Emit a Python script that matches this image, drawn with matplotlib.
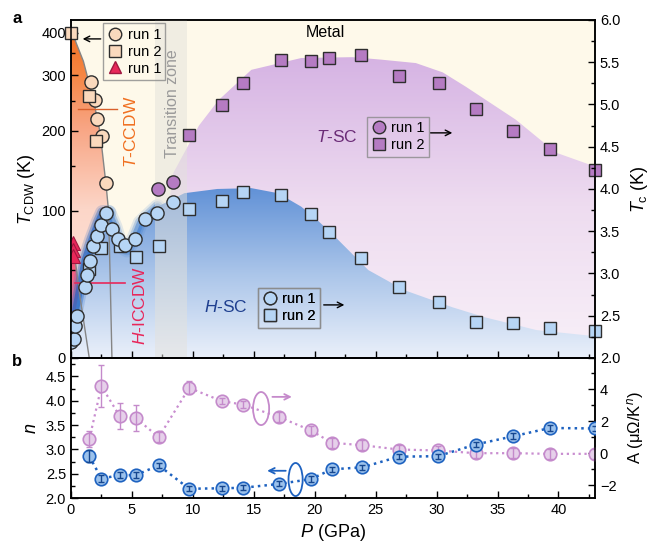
import numpy as np
import matplotlib
matplotlib.use('Agg')
import matplotlib.pyplot as plt
from matplotlib.colors import LinearSegmentedColormap
from matplotlib.patches import Polygon, Ellipse
from matplotlib.lines import Line2D
from matplotlib.ticker import MultipleLocator, FormatStrFormatter

plt.rcParams['font.family'] = ['Liberation Sans', 'DejaVu Sans']
plt.rcParams['mathtext.fontset'] = 'custom'
plt.rcParams['mathtext.rm'] = 'Liberation Sans'
plt.rcParams['mathtext.it'] = 'Liberation Sans:italic'
plt.rcParams['mathtext.bf'] = 'Liberation Sans:bold'
plt.rcParams['font.size'] = 10
plt.rcParams['axes.linewidth'] = 1.1

# ---- panel a, CDW transition temperatures (left axis, K)
ccdw_run1_P = [1.63, 1.93, 2.15, 2.54, 2.84]
ccdw_run1_T = [286, 252, 219, 192, 130]
ccdw_run2_P = [0.0, 1.46, 2.04]
ccdw_run2_T = [400, 258, 185]
iccdw_P = [0.2, 0.2, 0.2]
iccdw_T = [71, 65, 60]

# phase boundaries drawn as guides
ccdw_line_P = [0.0, 0.5, 1.02, 1.84, 2.40, 2.89, 3.08, 3.22, 3.36]
ccdw_line_T = [410, 368, 330, 252, 196, 126, 100, 43, 0]
iccdw_line_P = [0.2, 0.74, 1.5]
iccdw_line_T = [68, 32, 0]

# ---- panel a, superconducting Tc (right axis, K)
hsc_run1_P = [0.0, 0.25, 0.36, 0.52, 1.16, 1.35, 1.60, 1.79, 2.17, 2.45,
              2.84, 3.33, 3.83, 4.4, 5.29, 6.1, 7.08, 8.37]
hsc_run1_Tc = [2.19, 2.22, 2.38, 2.50, 2.84, 2.98, 3.15, 3.33, 3.44, 3.57,
               3.71, 3.53, 3.41, 3.34, 3.41, 3.64, 3.71, 3.84]
hsc_run2_P = [1.5, 2.5, 4.0, 5.3, 7.2, 9.7, 12.4, 14.1, 17.2, 19.7, 21.2,
              23.8, 26.9, 30.2, 33.2, 36.3, 39.3, 43.0]
hsc_run2_Tc = [3.05, 3.30, 3.32, 3.19, 3.32, 3.76, 3.86, 3.97, 3.93, 3.70,
               3.49, 3.18, 2.84, 2.66, 2.42, 2.41, 2.35, 2.32]
tsc_run1_P = [7.1, 8.4]
tsc_run1_Tc = [4.00, 4.08]
tsc_run2_P = [9.7, 12.4, 14.1, 17.2, 19.7, 21.2, 23.8, 26.9, 30.2, 33.2,
              36.3, 39.3, 43.0]
tsc_run2_Tc = [4.64, 4.99, 5.26, 5.53, 5.52, 5.55, 5.59, 5.34, 5.25, 4.95,
               4.69, 4.47, 4.22]

# shaded domes (upper edges)
hsc_edge_P = [-0.4, 0.33, 0.74, 1.16, 1.71, 2.23, 2.6, 3.1, 3.6, 4.05, 4.6,
              5.2, 5.7, 7.1, 9.3, 12.0, 14.8, 17.0, 18.9, 20.3, 21.7, 24.4,
              27.4, 31.3, 34.0, 38.2, 43.5]
hsc_edge_Tc = [2.18, 2.53, 2.84, 3.16, 3.40, 3.6, 3.72, 3.72, 3.55, 3.33,
               3.28, 3.42, 3.60, 3.79, 3.95, 4.0, 4.01, 3.95, 3.79, 3.62,
               3.43, 3.04, 2.80, 2.60, 2.48, 2.33, 2.25]
tsc_edge_P = [7.6, 8.4, 9.3, 10.5, 12.1, 14.8, 18.9, 23.1, 25.5, 28.3, 30.5,
              32.4, 36.5, 39.8, 43.5]
tsc_edge_Tc = [3.4, 4.19, 4.43, 4.75, 5.05, 5.41, 5.55, 5.56, 5.53, 5.49,
               5.38, 5.21, 4.82, 4.43, 4.24]

# ---- panel b, resistivity fit T^n
res_P = [1.5, 2.5, 4.0, 5.3, 7.2, 9.7, 12.4, 14.1, 17.1, 19.7, 21.4, 23.9,
         26.9, 30.1, 33.2, 36.3, 39.3, 43.0]
n_val = [2.86, 2.40, 2.47, 2.47, 2.67, 2.19, 2.20, 2.21, 2.29, 2.39, 2.59,
         2.63, 2.85, 2.86, 3.10, 3.27, 3.44, 3.43]
n_err = [0.12, 0.07, 0.06, 0.06, 0.06, 0.05, 0.05, 0.05, 0.05, 0.06, 0.05,
         0.05, 0.05, 0.05, 0.06, 0.06, 0.06, 0.05]
A_val = [0.86, 4.19, 2.31, 2.21, 1.0, 4.08, 3.25, 3.04, 2.25, 1.42, 0.65,
         0.5, 0.23, 0.17, 0.0, 0.0, -0.04, -0.04]
A_err = [0.5, 1.3, 0.8, 0.8, 0.3, 0.4, 0.2, 0.2, 0.3, 0.3, 0.3, 0.3, 0.3,
         0.3, 0.3, 0.3, 0.3, 0.3]


def fwd(t):
    return np.log1p(np.clip(t, -79, None) / 80.0)


def inv(u):
    return 80.0 * np.expm1(u)


def gradient_fill(axis, clip, colors, y1, z):
    cmap = LinearSegmentedColormap.from_list('g', colors)
    img = axis.imshow(np.linspace(0, 1, 256).reshape(-1, 1), cmap=cmap,
                      origin='lower', extent=[0, 1, 0, y1],
                      transform=axis.transAxes, aspect='auto',
                      interpolation='bilinear', zorder=z)
    img.set_clip_path(clip)


fig = plt.figure(figsize=(6.53, 5.55), dpi=100)
ax = fig.add_axes([0.1087, 0.355, 0.8025, 0.609])
axb = fig.add_axes([0.1087, 0.1027, 0.8025, 0.2523])

ax.set_yscale('function', functions=(fwd, inv))
ax.set_xlim(0, 43)
ax.set_ylim(0, 435)
ax.set_facecolor('#FEF9EA')
ax2 = ax.twinx()
ax2.set_ylim(2, 6)
tc = ax2.transData

# shaded regions
tsc_poly = Polygon(list(zip(tsc_edge_P, tsc_edge_Tc)) + [(43.5, 1.9), (7.6, 1.9)],
                   closed=True, transform=tc)
gradient_fill(ax, tsc_poly, ['#F8F0F8', '#EEDCF0', '#D5B2E3'], 0.9, 1)

ccdw_poly = Polygon([(0, 0)] + list(zip(ccdw_line_P, ccdw_line_T)),
                    closed=True, transform=ax.transData)
gradient_fill(ax, ccdw_poly,
              [(0, '#FDEDE8'), (0.45, '#FCD6C8'), (0.7, '#F8A482'),
               (0.87, '#F5843F'), (1, '#F06A1E')], 0.98, 1.2)

iccdw_poly = Polygon([(0, 0), (0, 70)] + list(zip(iccdw_line_P, iccdw_line_T)),
                     closed=True, transform=ax.transData)
gradient_fill(ax, iccdw_poly, ['#FBD8E0', '#F7849C', '#EF3A62'], 0.34, 1.3)

hsc_poly = Polygon(list(zip(hsc_edge_P, hsc_edge_Tc)) + [(43.5, 1.9), (-0.5, 1.9)],
                   closed=True, transform=tc)
gradient_fill(ax, hsc_poly, ['#EAF0FA', '#A9C4E9', '#5F90D6'], 0.51, 1.5)

# soft dark edge of the H-SC dome at low pressure
for lw, al in [(11, 0.18), (8, 0.35), (5, 0.6)]:
    ax.plot(hsc_edge_P[:8], hsc_edge_Tc[:8], color='#1A5FC2', lw=lw, alpha=al,
            transform=tc, zorder=1.6, solid_capstyle='round')
    ax.plot(hsc_edge_P[7:14], hsc_edge_Tc[7:14], color='#3F7ED0', lw=lw,
            alpha=al * 0.8, transform=tc, zorder=1.6, solid_capstyle='round')

ax.axvspan(6.9, 9.5, color='#E4E2DC', alpha=0.5, lw=0, zorder=2.6)

# boundaries and marks
ax.plot(ccdw_line_P, ccdw_line_T, color='#858585', lw=1, zorder=3)
ax.plot(iccdw_line_P, iccdw_line_T, color='#858585', lw=1, zorder=3)
ax.plot([0.58, 3.8], [236, 236], color='#D9602C', lw=1, zorder=3)
ax.plot([0.33, 4.46], [41, 41], color='#E8285A', lw=1.2, zorder=3)

mk = dict(ls='none', mec='#2E2E2E', mew=1)
ax.plot(tsc_run2_P, tsc_run2_Tc, 's', ms=8.5, mfc='#B57BC3', transform=tc, zorder=5, clip_on=False, **mk)
ax.plot(tsc_run1_P, tsc_run1_Tc, 'o', ms=9.5, mfc='#B57BC3', transform=tc, zorder=5, **mk)
ax.plot(hsc_run2_P, hsc_run2_Tc, 's', ms=8.5, mfc='#B6D5F5', transform=tc, zorder=5, clip_on=False, **mk)
ax.plot(hsc_run1_P, hsc_run1_Tc, 'o', ms=9.5, mfc='#B6D5F5', transform=tc, zorder=5, **mk)
ax.plot(ccdw_run1_P, ccdw_run1_T, 'o', ms=9.5, mfc='#FAD9BD', zorder=5.5, **mk)
ax.plot(ccdw_run2_P, ccdw_run2_T, 's', ms=8.5, mfc='#FAD9BD', zorder=5.5, clip_on=False, **mk)
ax.plot(iccdw_P, iccdw_T, '^', ms=9.5, mfc='#E8285A', mec='#A01840', mew=0.8,
        ls='none', zorder=6)

# legends
def make_legend(handles, labels, anchor):
    leg = ax.legend(handles, labels, loc='upper left', bbox_to_anchor=anchor,
                    fontsize=10.5, frameon=True, fancybox=False,
                    handlelength=1.0, handletextpad=0.35, borderpad=0.3,
                    labelspacing=0.2, borderaxespad=0)
    leg.get_frame().set_facecolor('none')
    leg.get_frame().set_edgecolor('#8A8A8A')
    leg.get_frame().set_linewidth(1)
    leg.set_zorder(7)
    ax.add_artist(leg)


def h(marker, fc, ec='#2E2E2E', ms=9):
    return Line2D([], [], ls='none', marker=marker, mfc=fc, mec=ec, ms=ms, mew=1)


make_legend([h('o', '#FAD9BD'), h('s', '#FAD9BD', ms=8), h('^', '#E8285A', ec='#A01840')],
            ['run 1', 'run 2', 'run 1'], (0.062, 0.99))
make_legend([h('o', '#B57BC3'), h('s', '#B57BC3', ms=8)], ['run 1', 'run 2'], (0.565, 0.713))
make_legend([h('o', '#B6D5F5'), h('s', '#B6D5F5', ms=8)], ['run 1', 'run 2'], (0.357, 0.207))

arr = dict(arrowstyle='->', color='k', lw=1)
ax.annotate('', xy=(0.017, 0.944), xytext=(0.062, 0.944), xycoords='axes fraction', arrowprops=arr, zorder=7)
ax.annotate('', xy=(0.733, 0.666), xytext=(0.681, 0.666), xycoords='axes fraction', arrowprops=arr, zorder=7)
ax.annotate('', xy=(0.527, 0.157), xytext=(0.477, 0.157), xycoords='axes fraction', arrowprops=arr, zorder=7)

ax.text(0.485, 0.962, 'Metal', transform=ax.transAxes, ha='center', va='center', fontsize=11.5, zorder=7)
ax.text(0.193, 0.754, 'Transition zone', transform=ax.transAxes, ha='center', va='center',
        rotation=90, fontsize=11.5, color='#9A9A9A', zorder=7)
ax.text(0.1145, 0.669, '$T$-CCDW', transform=ax.transAxes, ha='center', va='center',
        rotation=90, fontsize=12.5, color='#F07021', zorder=7)
ax.text(0.1317, 0.154, '$H$-ICCDW', transform=ax.transAxes, ha='center', va='center',
        rotation=90, fontsize=12.5, color='#E8265A', zorder=7)
ax.text(0.508, 0.654, '$T$-SC', transform=ax.transAxes, ha='center', va='center',
        fontsize=12.5, color='#6B2C77', zorder=7)
ax.text(0.296, 0.151, '$H$-SC', transform=ax.transAxes, ha='center', va='center',
        fontsize=12.5, color='#1F3F8F', zorder=7)

# axes styling, panel a
ax.set_xlim(0, 43)
ax.set_ylim(0, 435)
ax.xaxis.set_major_locator(MultipleLocator(5))
ax.xaxis.set_minor_locator(MultipleLocator(2.5))
ax.set_yticks([0, 100, 200, 300, 400])
ax.set_yticks([50, 150, 250, 350], minor=True)
ax.set_yticklabels(['0', '100', '200', '300', '400'])
ax.tick_params(axis='x', which='both', direction='in', labelbottom=False)
ax.tick_params(which='major', length=5, width=1, labelsize=10.5)
ax.tick_params(which='minor', length=3, width=1)
ax.tick_params(axis='y', which='both', direction='in')
ax2.yaxis.set_major_locator(MultipleLocator(0.5))
ax2.yaxis.set_minor_locator(MultipleLocator(0.25))
ax2.yaxis.set_major_formatter(FormatStrFormatter('%.1f'))
ax2.tick_params(which='both', direction='in')
ax2.tick_params(which='major', length=5, width=1, labelsize=10.5)
ax2.tick_params(which='minor', length=3, width=1)
ax.set_ylabel(r'$T_{\rm CDW}$ (K)', fontsize=13, labelpad=3)
ax2.set_ylabel(r'$T_{\rm c}$ (K)', fontsize=13, labelpad=6)

# ---- panel b
axb2 = axb.twinx()
axb.set_zorder(axb2.get_zorder() + 1)
axb.patch.set_visible(False)

axb2.plot(res_P, A_val, ':', color='#C98DD0', lw=1.6, zorder=2)
axb2.plot(res_P, A_val, 'o', ms=9, mfc='#E6D0EA', mec='#C48ACB', mew=1.2, ls='none', zorder=3)
axb2.errorbar(res_P, A_val, yerr=A_err, fmt='none', ecolor='#C48ACB', elinewidth=1,
              capsize=2, zorder=4)
axb.plot(res_P, n_val, ':', color='#1E62C0', lw=1.8, zorder=2)
axb.plot(res_P, n_val, 'o', ms=9, mfc='#9CC2EC', mec='#1E62C0', mew=1.2, ls='none', zorder=3)
axb.errorbar(res_P, n_val, yerr=n_err, fmt='none', ecolor='#16478F', elinewidth=1,
             capsize=2, zorder=4)

axb.add_patch(Ellipse((15.6, 3.84), 1.32, 0.68, fill=False, ec='#C58ACB', lw=1.3, zorder=5))
axb.annotate('', xy=(18.35, 4.08), xytext=(16.3, 4.08),
             arrowprops=dict(arrowstyle='->', color='#C58ACB', lw=1.3))
axb.add_patch(Ellipse((18.43, 2.38), 1.16, 0.68, fill=False, ec='#1E62C0', lw=1.3, zorder=5))
axb.annotate('', xy=(15.87, 2.56), xytext=(17.85, 2.56),
             arrowprops=dict(arrowstyle='->', color='#1E62C0', lw=1.3))

axb.set_xlim(0, 43)
axb.set_ylim(2.0, 4.88)
axb2.set_ylim(-2.8, 5.95)
axb.xaxis.set_major_locator(MultipleLocator(5))
axb.xaxis.set_minor_locator(MultipleLocator(2.5))
axb.set_yticks([2.0, 2.5, 3.0, 3.5, 4.0, 4.5])
axb.yaxis.set_minor_locator(MultipleLocator(0.25))
axb.yaxis.set_major_formatter(FormatStrFormatter('%.1f'))
axb2.set_yticks([-2, 0, 2, 4])
axb2.set_yticks([-1, 1, 3, 5], minor=True)
for a in (axb, axb2):
    a.tick_params(which='both', direction='in')
    a.tick_params(which='major', length=5, width=1, labelsize=10.5)
    a.tick_params(which='minor', length=3, width=1)
axb.set_ylabel('$n$', fontsize=13, labelpad=4)
axb2.set_ylabel(r'A (μΩ/K$^{n}$)', fontsize=12, labelpad=6)
axb.set_xlabel('$P$ (GPa)', fontsize=13, labelpad=4)

fig.text(0.026, 0.967, 'a', fontweight='bold', fontsize=12, ha='center', va='center')
fig.text(0.026, 0.348, 'b', fontweight='bold', fontsize=12, ha='center', va='center')

fig.savefig('out.png', dpi=100)
